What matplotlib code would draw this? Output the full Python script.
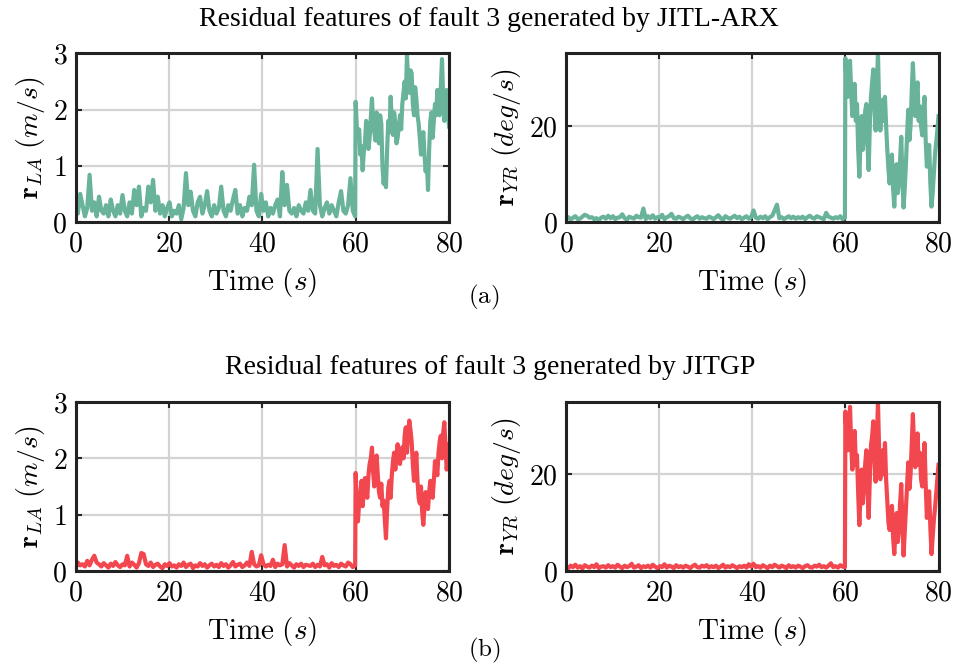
import numpy as np
import matplotlib
matplotlib.use("Agg")
import matplotlib.pyplot as plt
from matplotlib.ticker import FuncFormatter, MultipleLocator

plt.rcParams['mathtext.fontset'] = 'cm'
plt.rcParams['font.family'] = ['DejaVu Serif']

# ---------------- data ----------------
# before the fault (0 .. 60 s, every 0.5 s)
arx_la_pre = [0.2,0.15,0.5,0.3,0.1,0.25,0.84,0.2,0.35,0.1, 0.45,0.2,0.15,0.3,0.1,0.4,0.2,0.1,0.3,0.15,
              0.48,0.2,0.1,0.35,0.15,0.57,0.3,0.63,0.1,0.25, 0.2,0.63,0.35,0.75,0.2,0.45,0.15,0.3,0.1,0.25,
              0.35,0.1,0.2,0.15,0.3,0.05,0.25,0.87,0.3,0.54, 0.2,0.1,0.35,0.45,0.15,0.3,0.55,0.2,0.1,0.3,
              0.15,0.25,0.63,0.2,0.1,0.3,0.2,0.4,0.57,0.15, 0.3,0.1,0.25,0.2,0.45,0.3,1.02,0.2,0.1,0.5,
              0.2,0.35,0.1,0.25,0.15,0.3,0.4,0.1,0.89,0.3, 0.66,0.2,0.15,0.25,0.1,0.3,0.2,0.15,0.35,0.2,
              0.57,0.2,0.15,1.3,0.3,0.1,0.25,0.35,0.15,0.3, 0.2,0.1,0.35,0.55,0.2,0.15,0.3,0.78,0.2,0.1]
arx_yr_pre = [0.8,1.0,0.5,0.9,1.2,0.6,0.7,1.1,1.5,1.3, 0.9,1.0,0.6,0.8,0.4,0.9,1.1,0.7,1.3,0.8,
              1.2,0.6,0.9,1.0,1.6,0.8,0.5,1.1,0.9,0.7, 1.3,1.0,0.9,2.8,0.6,1.2,0.8,1.4,0.7,1.0,
              0.9,1.5,0.6,1.0,1.2,1.7,0.8,0.7,1.1,0.9, 0.6,1.0,1.3,0.8,0.5,0.9,1.2,0.7,1.0,0.8,
              0.7,1.1,0.9,0.6,1.0,1.4,0.8,0.5,1.2,0.9, 0.7,1.0,1.3,0.8,1.1,0.6,0.9,1.2,0.7,1.0,
              2.4,0.9,0.7,1.1,0.8,1.2,0.6,1.0,1.3,2.4, 3.6,0.8,1.0,0.6,0.9,1.2,0.8,1.1,0.7,1.0,
              0.8,1.1,0.6,1.0,1.3,0.9,0.7,1.2,1.0,0.8, 0.6,1.9,1.1,0.9,0.7,1.0,0.8,1.2,0.6,0.9]
gp_la_pre = [0.05,0.15,0.1,0.12,0.08,0.18,0.1,0.2,0.27,0.15, 0.12,0.08,0.14,0.1,0.06,0.13,0.09,0.16,0.1,0.07,
             0.12,0.1,0.27,0.08,0.15,0.11,0.06,0.14,0.32,0.3, 0.12,0.09,0.15,0.07,0.11,0.13,0.08,0.05,0.12,0.09,
             0.14,0.08,0.1,0.06,0.12,0.09,0.15,0.07,0.11,0.13, 0.05,0.1,0.08,0.14,0.09,0.12,0.06,0.1,0.13,0.08,
             0.11,0.07,0.14,0.09,0.12,0.06,0.1,0.16,0.08,0.11, 0.13,0.07,0.1,0.15,0.09,0.34,0.12,0.08,0.1,0.28,
             0.12,0.08,0.11,0.09,0.2,0.07,0.13,0.1,0.12,0.46, 0.08,0.14,0.1,0.06,0.12,0.09,0.13,0.07,0.11,0.1,
             0.09,0.13,0.07,0.11,0.08,0.25,0.1,0.12,0.06,0.14, 0.09,0.11,0.07,0.13,0.1,0.08,0.15,0.12,0.07,0.1]
gp_yr_pre = [0.9,0.6,1.1,0.8,1.3,0.7,1.0,0.5,1.2,0.9, 0.7,1.1,0.8,1.4,0.6,0.9,1.0,0.7,1.2,0.8,
             1.0,0.7,1.3,0.9,0.6,1.1,0.8,1.0,1.5,0.7, 0.9,1.2,0.6,1.0,0.8,1.1,0.7,1.3,0.9,0.6,
             1.0,0.8,1.4,0.7,1.1,0.9,0.6,1.2,0.8,1.0, 0.7,1.1,0.9,0.6,1.0,1.3,0.8,0.7,1.1,0.9,
             1.2,0.7,1.0,0.8,1.1,0.6,0.9,1.3,0.7,1.0, 0.8,1.2,0.9,0.6,1.0,0.8,1.1,0.7,1.4,0.9,
             1.5,0.8,1.0,0.7,1.2,0.9,0.6,1.1,0.8,1.3, 1.0,0.7,1.1,0.9,0.6,1.2,0.8,1.0,0.7,1.1,
             0.9,0.6,1.0,1.2,0.8,0.7,1.1,0.9,1.3,0.8, 1.0,0.7,1.1,1.6,0.8,1.0,0.7,1.2,0.9,0.8]

# after the fault (60 .. 80 s, every 0.25 s)
arx_la_post = [2.14,1.7,1.46,1.65,1.2,1.35,0.92,1.25,1.4,1.8,1.7,1.3,1.5,1.85,2.2,1.75,1.6,1.45,1.95,1.55,
               1.4,1.9,1.75,1.0,0.68,0.9,0.62,1.3,1.8,1.6,2.23,1.8,1.55,1.95,1.75,1.4,1.5,1.7,1.9,1.65,
               2.1,2.3,2.5,2.2,2.98,2.5,2.3,2.7,2.65,2.1,1.9,2.4,2.2,1.9,1.75,1.5,1.2,1.45,1.6,1.2,
               0.9,1.1,0.57,1.3,1.8,1.95,1.5,1.8,2.1,1.9,2.35,2.0,1.9,2.4,2.9,2.2,1.8,2.1,2.35,2.0,1.7]
arx_yr_post = [34,29,26,31,33.5,27,22,25,28.7,21,24.5,15,9.4,17,22,15,18.5,23,24.5,16,
               10.8,20,26,29,31.7,24,19,28,35,24,19,22,25.4,21,26,20,15,11,8,12,
               14,7,3.2,9,12,6,8,13,17.7,9,3,7,12,18,23.3,17,20,27,33,27,
               22,26,29,21,24,20,18,23,26,17,11.5,14,16,8,3.2,6,10,14,16.4,19,22]
gp_la_post = [1.74,1.2,0.88,1.2,1.36,1.6,1.15,1.4,1.65,1.45,1.3,1.7,1.9,2.0,2.19,1.75,1.5,1.85,2.05,1.7,
              1.4,1.3,1.55,1.15,1.25,0.9,0.58,1.1,1.48,1.6,1.3,1.7,1.95,2.1,1.8,2.05,2.25,2.0,1.9,2.05,
              2.2,2.0,2.4,2.55,2.1,2.45,2.67,2.5,2.3,1.9,1.6,1.85,2.1,1.6,1.3,1.2,1.5,1.05,0.82,1.15,
              1.4,1.25,1.1,1.4,1.6,1.45,1.3,1.6,1.95,1.85,1.7,2.1,2.3,2.4,2.0,2.45,2.64,2.2,1.8,2.0,2.25]
gp_yr_post = [33,28,25,30,34,26,21,26,29,22,24,16,9.5,16,21,14,18,22,25,17,
              11,19,26,28,31,23,18.5,27,35,25,19,23,25,20,26.5,19,14.5,10,8.5,11,
              13.5,7,3.5,8,12,6,8.5,14,18,10,3.2,8,12.5,18,22.5,17,20,26,32.5,26,
              21.5,25,28.5,22,24.5,19,17.5,22,26.5,18,11,15,16.5,9,3.5,7,10.5,13,16,19,22]

green = '#69b39b'
red = '#f34750'

# ---------------- figure ----------------
fig = plt.figure(figsize=(9.57, 6.66), dpi=100)

W, H = 957.0, 666.0
def ax_at(x0, x1, ytop, ybot):
    return fig.add_axes([x0 / W, 1 - ybot / H, (x1 - x0) / W, (ybot - ytop) / H])

axes = [
    (ax_at(75.5, 449, 53.5, 222), arx_la_pre, arx_la_post, green, 3, r'$\mathbf{r}_{LA}\ (m/s)$'),
    (ax_at(566, 938.5, 53.5, 222), arx_yr_pre, arx_yr_post, green, 35, r'$\mathbf{r}_{YR}\ (deg/s)$'),
    (ax_at(75.5, 449, 402, 571), gp_la_pre, gp_la_post, red, 3, r'$\mathbf{r}_{LA}\ (m/s)$'),
    (ax_at(566, 938.5, 402, 571), gp_yr_pre, gp_yr_post, red, 35, r'$\mathbf{r}_{YR}\ (deg/s)$'),
]

fmt = FuncFormatter(lambda v, p: f'${v:g}$')
for ax, pre, post, col, ymax, ylab in axes:
    t_pre = np.linspace(0, 59.9, len(pre))
    t_post = np.linspace(60, 80, len(post))
    tt = np.concatenate([t_pre, t_post])
    yy = np.concatenate([pre, post])
    ax.plot(tt, yy, color=col, lw=3.0, solid_joinstyle='round', zorder=3)
    ax.set_xlim(0, 80)
    ax.set_ylim(0, ymax)
    ax.xaxis.set_major_locator(MultipleLocator(20))
    ax.yaxis.set_major_locator(MultipleLocator(1 if ymax == 3 else 20))
    ax.xaxis.set_major_formatter(fmt)
    ax.yaxis.set_major_formatter(fmt)
    ax.grid(True, color='#d3d3d3', lw=1.6, zorder=0)
    ax.set_axisbelow(True)
    ax.tick_params(direction='in', length=4, width=1.5, top=True, right=True,
                   labelsize=20, pad=6, color='#262626')
    for s in ax.spines.values():
        s.set_linewidth(2.2)
        s.set_color('#222222')
        s.set_zorder(4)
    ax.set_xlabel(r'$\mathrm{Time}\ (s)$', fontsize=21, labelpad=6)
    ax.set_ylabel(ylab, fontsize=20, labelpad=4)

fig.text(489 / W, 1 - 19 / H, 'Residual features of fault 3 generated by JITL-ARX',
         ha='center', va='center', fontsize=20, family='Liberation Serif')
fig.text(490 / W, 1 - 367 / H, 'Residual features of fault 3 generated by JITGP',
         ha='center', va='center', fontsize=20, family='Liberation Serif')
fig.text(484 / W, 1 - 297 / H, r'$\mathrm{(a)}$', ha='center', va='center', fontsize=18)
fig.text(484 / W, 1 - 650 / H, r'$\mathrm{(b)}$', ha='center', va='center', fontsize=18)

fig.savefig('out.png', dpi=100)
